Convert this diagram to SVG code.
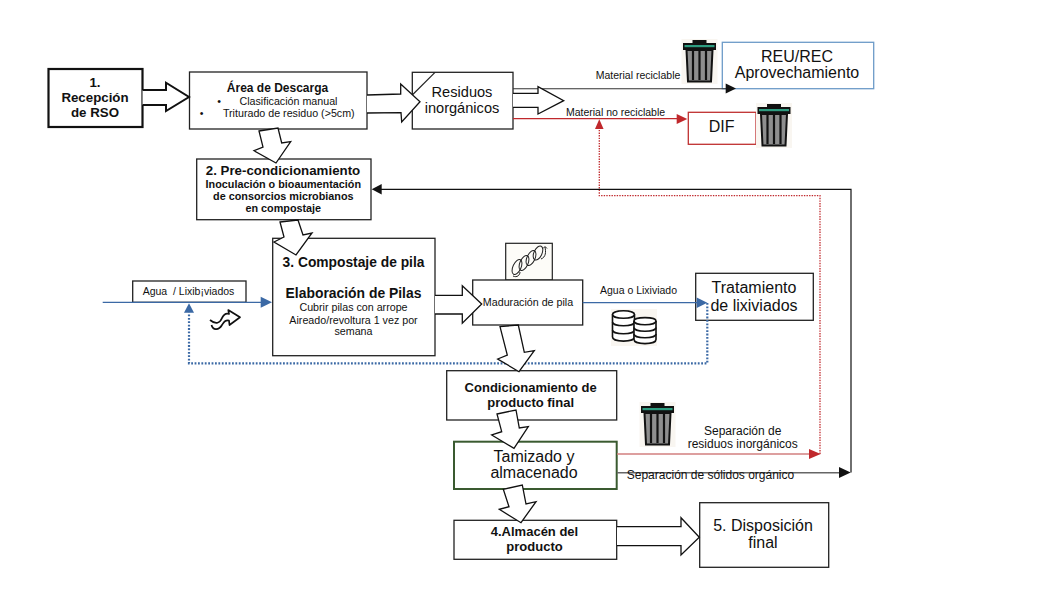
<svg xmlns="http://www.w3.org/2000/svg" xmlns:xlink="http://www.w3.org/1999/xlink" width="1058" height="595" viewBox="0 0 1058 595">
<style>
text{font-family:"Liberation Sans",Arial,sans-serif;fill:#111;text-anchor:middle}
.b{font-weight:bold}
.box{fill:#fff;stroke:#222;stroke-width:1.3}
.blk{fill:#fff;stroke:#111;stroke-width:1.3;stroke-linejoin:miter}
.s16{font-size:16px}.s107{font-size:10.7px}.s105{font-size:10.5px}.s12{font-size:12px}
.blue{fill:none;stroke:#3b69a5;stroke-width:1.3}
.bdot{fill:none;stroke:#3b69a5;stroke-width:2.2;stroke-dasharray:1.8 1.6}
.rdot{fill:none;stroke:#c0282c;stroke-width:1.3;stroke-dasharray:1.4 1.2}
</style>
<defs>
<symbol id="trash" viewBox="0 0 34 43" overflow="visible">
<rect x="-1" y="-1" width="36" height="45" fill="#f9f6f1"/>
<rect x="10" y="0" width="14" height="4" fill="#111"/>
<rect x="0.5" y="3" width="33" height="7" fill="#111"/>
<rect x="2" y="5" width="30" height="2.2" fill="#2e9c80"/>
<path d="M4 10H30L28.500 41.500H5.500Z" fill="#8e8e8e" stroke="#111" stroke-width="2"/>
<path d="M10.500 10V40M17 10V40M23.500 10V40" stroke="#111" stroke-width="2.200" fill="none"/>
</symbol>
</defs>
<rect width="1058" height="595" fill="#fff"/>

<g id="n1"><rect x="48.500" y="69" width="94" height="58" fill="#fff" stroke="#111" stroke-width="2.200"/>
<text x="95" y="86.700" font-size="13.300" class="b">1.</text><text x="95" y="101.700" font-size="13.300" class="b">Recepción</text><text x="95" y="116.700" font-size="13.300" class="b">de RSO</text></g>

<g id="n-descarga"><rect class="box" x="189.500" y="72" width="177.500" height="57"/>
<text x="277.500" y="91.700" font-size="12" class="b">Área de Descarga</text>
<text x="219" y="105" class="s107">•</text><text x="288.500" y="105" class="s107">Clasificación manual</text>
<text x="201.700" y="116.700" class="s107">•</text><text x="288.800" y="116.700" class="s107">Triturado de residuo (&gt;5cm)</text></g>

<g id="n2"><rect class="box" x="196.700" y="159" width="174.300" height="60.700"/>
<text x="283" y="175" font-size="13.300" class="b">2. Pre-condicionamiento</text>
<text x="283.300" y="187.700" font-size="10.800" class="b">Inoculación o bioaumentación</text>
<text x="283.300" y="200" font-size="10.800" class="b">de consorcios microbianos</text>
<text x="283.300" y="211.700" font-size="10.800" class="b">en compostaje</text></g>

<g id="n-residuos"><rect class="box" x="412.300" y="72.300" width="100.700" height="56.700"/>
<path d="M412.300 95L435 72.300" stroke="#222" stroke-width="1.200" fill="none"/>
<text x="462" y="96.700" font-size="14.600">Residuos</text><text x="462" y="112.700" font-size="14.600">inorgánicos</text></g>

<g id="n-reu"><rect x="722.300" y="42.300" width="151.400" height="46.400" fill="#fff" stroke="#6d9bc8" stroke-width="1.300"/>
<text x="797" y="61.700" class="s16">REU/REC</text><text x="797" y="78.300" class="s16">Aprovechamiento</text></g>

<g id="n-dif"><rect x="688.300" y="112.300" width="67.700" height="32" fill="#fff" stroke="#bf3030" stroke-width="1.300"/>
<text x="721.700" y="132.300" class="s16">DIF</text></g>

<g id="n-agua"><rect class="box" x="132.700" y="281" width="113.300" height="21.300"/>
<text x="188.500" y="295" class="s105" xml:space="preserve">Agua  / Lixib¡viados</text></g>

<g id="n3"><rect class="box" x="272.700" y="238.300" width="162.300" height="117.400"/>
<text x="353.500" y="267.300" font-size="13.800" class="b">3. Compostaje de pila</text>
<text x="353.500" y="298.300" font-size="13.900" class="b">Elaboración de Pilas</text>
<text x="353.500" y="311" class="s107">Cubrir pilas con arrope</text>
<text x="353.500" y="324" class="s107">Aireado/revoltura 1 vez por</text>
<text x="353.500" y="335.300" class="s107">semana</text></g>

<g id="n-espiral"><rect x="505.700" y="243.300" width="46.600" height="36.700" fill="#fdfcf8" stroke="#222" stroke-width="1.200"/>
<g fill="none" stroke="#222" stroke-width="1">
<path d="M513 276C517 278 520 275 520 272"/>
<ellipse cx="517" cy="267" rx="4" ry="8" transform="rotate(25 517 267)"/>
<ellipse cx="524" cy="263" rx="4" ry="8" transform="rotate(25 524 263)"/>
<ellipse cx="531" cy="258" rx="4" ry="8" transform="rotate(25 531 258)"/>
<ellipse cx="538" cy="253" rx="4" ry="7.500" transform="rotate(25 538 253)"/>
<path d="M541 259C546 257 546 252 545 247M543 248.500L545 246.500L547 248.500"/>
</g></g>

<g id="n-maduracion"><rect class="box" x="472.700" y="280" width="110" height="45"/>
<text x="528" y="305.700" class="s107">Maduración de pila</text></g>

<g id="n-tratamiento"><rect class="box" x="695.700" y="273.300" width="117.600" height="47"/>
<text x="754" y="293.300" class="s16">Tratamiento</text><text x="754" y="311" class="s16">de lixiviados</text></g>

<g id="n-condicionamiento"><rect class="box" x="446.700" y="370.700" width="170" height="49.300"/>
<text x="530.700" y="391.700" font-size="13" class="b">Condicionamiento de</text>
<text x="530.700" y="406.700" font-size="13" class="b">producto final</text></g>

<g id="n-tamizado"><rect x="454" y="441.700" width="162.700" height="47.300" fill="#fff" stroke="#3a5a30" stroke-width="2"/>
<text x="534" y="461.700" class="s16">Tamizado y</text><text x="534" y="478.300" class="s16">almacenado</text></g>

<g id="n4"><rect class="box" x="454" y="520.300" width="162.700" height="39"/>
<text x="534.500" y="535.700" font-size="13" class="b">4.Almacén del</text>
<text x="534.500" y="550.700" font-size="13" class="b">producto</text></g>

<g id="n5"><rect class="box" x="699.700" y="502.700" width="129" height="64.600"/>
<text x="763" y="530.700" class="s16">5. Disposición</text><text x="763" y="548.300" class="s16">final</text></g>

<g id="connectors">
<path d="M513 88.700H726" fill="none" stroke="#333" stroke-width="1.100"/>
<path d="M725.700 83.500L736 88.500L725.700 93.500Z" fill="#111"/>
<path d="M513 118.700H677" fill="none" stroke="#c0282c" stroke-width="1.200"/>
<path d="M676.700 114L687.300 119L676.700 124Z" fill="#c0282c"/>
<path class="rdot" d="M820 454V195.700H599.300V129"/>
<path d="M599.300 119.300L603.600 129H595Z" fill="#c0282c"/>
<path d="M617 454H809" fill="none" stroke="#d27f7f" stroke-width="1.600"/>
<path d="M809 449L820.700 454L809 459Z" fill="#c0282c"/>
<path d="M617 472.700H840" fill="none" stroke="#666" stroke-width="1.500"/>
<path d="M839 467L850.700 472.500L839 478Z" fill="#111"/>
<path d="M851 472.500V189.300H381" fill="none" stroke="#111" stroke-width="1.200"/>
<path d="M371.700 189.300L381.700 184V194.600Z" fill="#111"/>
<path class="blue" d="M102.700 302.300H261"/>
<path d="M260.700 296.700L272 302.300L260.700 307.700Z" fill="#3b69a5"/>
<path class="bdot" d="M707.300 303V363.300H189V312.700"/>
<path d="M189 303.300L194 312.700H184Z" fill="#3b69a5"/>
<path class="blue" d="M582.700 302.700H697"/>
<path d="M696.700 297.500L707.300 302.700L696.700 308Z" fill="#3b69a5"/>

<path class="blk" style="stroke-width:2" d="M142.500 90H166V82.700L189 97L166 111V105H142.500"/>
<path class="blk" d="M367 95L400.700 94V84L420 101.700L401.700 122L401 112.700L367 113"/>
<path class="blk" d="M513 93.300H538V86.700L563.700 100.700L538 114V107.300H513"/>
<path class="blk" d="M259 131L278 128L281.700 143L290.700 141.700L276 163L254 150.700L263 147Z"/>
<path class="blk" d="M280 222L298 220L303 235L312 233L296 255L274 242L284 237Z"/>
<path class="blk" d="M435 295.300H462.300V285.700L481.700 304L462.300 323.300V314H435"/>
<path class="blk" d="M500 326.700L518.300 325L524.300 352.300L534.300 350.700L519 371.700L497.700 359L507.300 355Z"/>
<path class="blk" d="M497 414L516 410L519.300 428L528.300 426.700L514 448.300L491.700 435L501.700 431.700Z"/>
<path class="blk" d="M503.300 489.300L522.300 485L526 504L536 501.700L521 522.700L499.300 509.300L509 506.700Z"/>
<path class="blk" d="M617 526.700H681V517.700L699.300 537.300L681 555V545.700H617"/>
<path d="M210 320C216 325 220 323 222 318C224 314 226 313 229 314L228.300 310L240 317.300L229.500 325L229 320.500C225 320 224 322 222 325C219 330 213 331 211.500 325" fill="#fff" stroke="#111" stroke-width="1.700" stroke-linejoin="round"/>
</g>

<g id="labels">
<text x="638" y="79.300" class="s105">Material reciclable</text>
<text x="615.500" y="115.700" class="s105">Material no reciclable</text>
<text x="638.500" y="294.300" class="s105">Agua o Lixiviado</text>
<text x="742.700" y="435" class="s12">Separación de</text>
<text x="742.700" y="447.700" class="s12">residuos inorgánicos</text>
<text x="710.500" y="479.300" class="s12">Separación de sólidos orgánico</text>
</g>

<g id="icons">
<use xlink:href="#trash" href="#trash" x="682.500" y="40" width="34" height="43"/>
<use xlink:href="#trash" href="#trash" x="757" y="104" width="34" height="43"/>
<use xlink:href="#trash" href="#trash" x="640.500" y="403" width="34" height="43"/>
<g id="database" fill="#fff" stroke="#111" stroke-width="1.600">
<rect x="611" y="309" width="46" height="37" fill="#f9f6f1" stroke="none"/>
<path d="M612.500 314.500C612.500 309.500 634.500 309.500 634.500 314.500V337C634.500 342.500 612.500 342.500 612.500 337Z"/>
<path d="M612.500 314.500C612.500 319.500 634.500 319.500 634.500 314.500M612.500 322C612.500 327 634.500 327 634.500 322M612.500 330C612.500 335 634.500 335 634.500 330" fill="none"/>
<path d="M634 321C634 316.500 656 316.500 656 321V339.500C656 345 634 345 634 339.500Z"/>
<path d="M634 321C634 326 656 326 656 321M634 327.500C634 332.500 656 332.500 656 327.500M634 334C634 339 656 339 656 334" fill="none"/>
</g>
</g>
</svg>
